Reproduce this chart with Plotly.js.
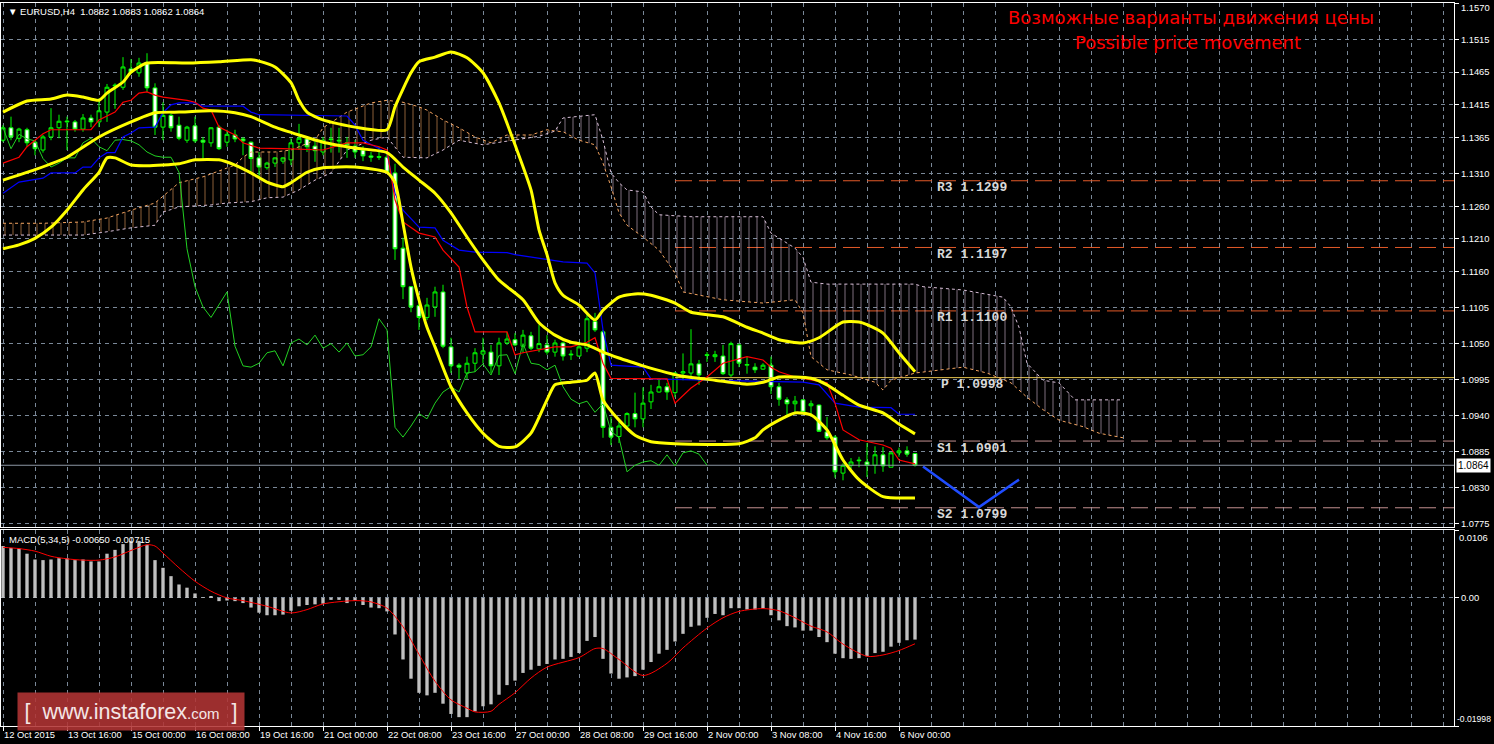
<!DOCTYPE html>
<html><head><meta charset="utf-8">
<script src="https://cdn.plot.ly/plotly-3.0.1.min.js"></script>
<style>html,body{margin:0;padding:0;background:#000;}#chart{width:1494px;height:744px;}</style>
</head><body><div id="chart"></div>
<script>
// ---------- DATA ----------
const timeLabels = ["12 Oct 2015","13 Oct 16:00","15 Oct 00:00","16 Oct 08:00","19 Oct 16:00","21 Oct 00:00","22 Oct 08:00","23 Oct 16:00","27 Oct 00:00","28 Oct 08:00","29 Oct 16:00","2 Nov 00:00","3 Nov 08:00","4 Nov 16:00","6 Nov 00:00"];
const priceTicks = [1.1570,1.1515,1.1465,1.1415,1.1365,1.1310,1.1260,1.1210,1.1160,1.1105,1.1050,1.0995,1.0940,1.0885,1.0830,1.0775];

const open = [1.1361,1.1380,1.1364,1.1377,1.1358,1.1346,1.1366,1.1380,1.1389,1.1389,
1.1378,1.1395,1.1389,1.1404,1.1444,1.1442,1.1470,1.1464,1.1478,1.1441,
1.1381,1.1399,1.1384,1.1361,1.1383,1.1361,1.1357,1.1381,1.1358,1.1369,
1.1363,1.1358,1.1334,1.1319,1.1326,1.1329,1.1331,1.1357,1.1363,1.1352,
1.1343,1.1363,1.1361,1.1357,1.1352,1.1346,1.1337,1.1336,1.1335,1.1311,
1.1196,1.1137,1.1108,1.1090,1.1106,1.1129,1.1045,1.1017,1.1005,1.1020,
1.1034,1.1037,1.1016,1.1051,1.1056,1.1046,1.1062,1.1042,1.1048,1.1037,
1.1051,1.1034,1.1031,1.1043,1.1084,1.1068,1.0922,1.0908,1.0924,1.0943,
1.0935,1.0961,1.0976,1.0984,1.0975,1.1005,1.1005,1.1019,1.1033,1.1030,
1.1031,1.1002,1.1048,1.1017,1.1014,1.1011,1.1017,1.0984,1.0964,1.0958,
1.0964,1.0955,1.0956,1.0915,1.0907,1.0852,1.0864,1.0872,1.0869,1.0864,
1.0880,1.0861,1.0883,1.0886,1.0882];
const high = [1.1384,1.1397,1.1380,1.1380,1.1361,1.1369,1.1410,1.1400,1.1397,1.1392,
1.1401,1.1400,1.1425,1.1447,1.1448,1.1488,1.1485,1.1487,1.1494,1.1448,
1.1419,1.1403,1.1397,1.1383,1.1397,1.1366,1.1381,1.1384,1.1377,1.1377,
1.1366,1.1359,1.1343,1.1328,1.1335,1.1335,1.1364,1.1386,1.1366,1.1361,
1.1366,1.1380,1.1380,1.1366,1.1361,1.1352,1.1343,1.1351,1.1341,1.1325,
1.1212,1.1138,1.1121,1.1120,1.1137,1.1140,1.1059,1.1020,1.1030,1.1043,
1.1059,1.1048,1.1059,1.1068,1.1066,1.1071,1.1068,1.1079,1.1063,1.1056,
1.1053,1.1040,1.1053,1.1097,1.1097,1.1071,1.0938,1.0930,1.0945,1.0975,
1.0983,1.0987,1.0997,1.0990,1.1007,1.1035,1.1072,1.1025,1.1037,1.1039,
1.1048,1.1053,1.1050,1.1030,1.1020,1.1020,1.1030,1.0990,1.0968,1.0970,
1.0965,1.0963,1.0957,1.0938,1.0910,1.0867,1.0875,1.0877,1.0898,1.0893,
1.0892,1.0884,1.0891,1.0893,1.0883];
const low = [1.1358,1.1361,1.1358,1.1351,1.1338,1.1342,1.1361,1.1364,1.1346,1.1374,
1.1374,1.1381,1.1381,1.1389,1.1409,1.1438,1.1462,1.1458,1.1435,1.1369,
1.1361,1.1374,1.1361,1.1357,1.1357,1.1332,1.1351,1.1346,1.1351,1.1358,
1.1338,1.1313,1.1305,1.1316,1.1320,1.1325,1.1323,1.1346,1.1343,1.1328,
1.1338,1.1342,1.1342,1.1334,1.1334,1.1329,1.1328,1.1331,1.1311,1.1178,
1.1118,1.1098,1.1071,1.1086,1.1091,1.1043,1.1005,1.0996,1.0996,1.1007,
1.1020,1.1005,1.1002,1.1048,1.1046,1.1036,1.1040,1.1037,1.1033,1.1030,
1.1024,1.1025,1.1030,1.1037,1.1068,1.0906,1.0895,1.0898,1.0922,1.0922,
1.0922,1.0950,1.0975,1.0964,1.0968,1.0994,1.1000,1.0987,1.1022,1.1022,
1.1002,1.0999,1.1014,1.1004,1.1005,1.1010,1.0973,1.0955,1.0938,1.0944,
1.0944,1.0938,1.0915,1.0903,1.0845,1.0841,1.0858,1.0861,1.0846,1.0851,
1.0854,1.0861,1.0877,1.0877,1.0862];
const close = [1.1380,1.1366,1.1378,1.1357,1.1348,1.1366,1.1380,1.1390,1.1390,1.1378,
1.1395,1.1389,1.1406,1.1442,1.1445,1.1473,1.1465,1.1479,1.1441,1.1381,
1.1399,1.1380,1.1364,1.1381,1.1360,1.1358,1.1380,1.1348,1.1370,1.1363,
1.1360,1.1333,1.1320,1.1326,1.1334,1.1334,1.1357,1.1364,1.1351,1.1345,
1.1361,1.1362,1.1360,1.1354,1.1343,1.1337,1.1335,1.1335,1.1312,1.1195,
1.1137,1.1106,1.1090,1.1109,1.1129,1.1046,1.1016,1.1014,1.1020,1.1036,
1.1039,1.1016,1.1051,1.1057,1.1048,1.1063,1.1043,1.1050,1.1037,1.1051,
1.1031,1.1033,1.1045,1.1088,1.1071,1.0922,1.0907,1.0924,1.0943,1.0935,
1.0959,1.0976,1.0984,1.0976,1.1005,1.1007,1.1019,1.1002,1.1032,1.1033,
1.1004,1.1050,1.1020,1.1018,1.1010,1.1017,1.0984,1.0965,1.0958,1.0962,
1.0945,1.0958,1.0916,1.0906,1.0854,1.0864,1.0869,1.0871,1.0864,1.0880,
1.0863,1.0883,1.0886,1.0881,1.0864];

// Bollinger bands
const bbUpperIdx = [0,3,6,8,10,12,13,15,16,18,23,27,31,32,34,36,37,38,40,44,48,49,51,52,54,56,58,60,62,64,66,67,68,69,70,72,74,75,77,79,81,84,86,90,93,95,97,100,102,105,107,108,110,112,114];
const bbUpperVal = [1.1404,1.1421,1.1424,1.1430,1.1427,1.1422,1.1433,1.1450,1.1465,1.1479,1.1479,1.1481,1.1484,1.1482,1.1473,1.1449,1.1422,1.1404,1.1392,1.1381,1.1377,1.1412,1.1464,1.1481,1.1488,1.1496,1.1487,1.1464,1.1418,1.1354,1.1285,1.1224,1.1186,1.1143,1.1124,1.1109,1.1086,1.1101,1.1121,1.1126,1.1124,1.1112,1.1098,1.1091,1.1075,1.1066,1.1056,1.1051,1.1059,1.1083,1.1083,1.1079,1.1066,1.1036,1.1007];
const bbMidIdx = [0,4,8,12,16,19,22,26,29,31,34,37,40,44,48,50,52,54,56,58,60,62,65,67,69,71,73,75,77,79,80,85,89,93,95,97,99,101,103,105,107,110,112,114];
const bbMidVal = [1.1300,1.1316,1.1335,1.1366,1.1389,1.1403,1.1404,1.1406,1.1403,1.1397,1.1381,1.1369,1.1358,1.1349,1.1342,1.1320,1.1300,1.1280,1.1250,1.1213,1.1178,1.1147,1.1117,1.1082,1.1063,1.1052,1.1048,1.1037,1.1028,1.1020,1.1016,1.1000,1.0994,1.0988,1.0991,1.0999,1.0999,1.0997,1.0987,1.0971,1.0956,1.0944,1.0927,1.0912];
const bbLowerIdx = [0,2,4,6,8,10,12,13,14,16,18,22,24,27,29,31,33,35,36,38,40,44,48,49,50,51,52,53,54,56,58,60,62,64,66,68,69,71,73,74,75,77,79,81,84,92,94,95,97,99,101,103,105,107,110,114];
const bbLowerVal = [1.1195,1.1201,1.1211,1.1228,1.1254,1.1285,1.1312,1.1334,1.1334,1.1323,1.1322,1.1325,1.1331,1.1331,1.1323,1.1311,1.1297,1.1290,1.1296,1.1312,1.1319,1.1320,1.1312,1.1296,1.1234,1.1167,1.1117,1.1075,1.1045,1.0984,1.0944,1.0913,1.0893,1.0892,1.0913,1.0964,1.0987,1.0991,1.0994,1.1005,1.0964,1.0933,1.0910,1.0900,1.0897,1.0897,1.0906,1.0918,1.0933,1.0944,1.0941,1.0918,1.0872,1.0842,1.0816,1.0814];

// Ichimoku
const tenkanIdx = [0,2,3,5,6,11,12,14,15,16,17,18,19,20,23,24,25,26,27,29,30,32,35,40,43,45,47,48,49,50,52,54,55,57,58,59,63,64,65,67,69,71,73,74,75,76,83,84,86,88,90,93,95,96,97,99,101,103,104,105,107,110,111,112,114];
const tenkanVal = [1.1326,1.1335,1.1351,1.1371,1.1377,1.1377,1.1392,1.1404,1.1419,1.1422,1.1433,1.1435,1.1430,1.1427,1.1422,1.1419,1.1410,1.1407,1.1381,1.1369,1.1357,1.1349,1.1348,1.1346,1.1357,1.1357,1.1351,1.1346,1.1270,1.1236,1.1219,1.1213,1.1193,1.1167,1.1106,1.1068,1.1068,1.1033,1.1036,1.1040,1.1045,1.1045,1.1052,1.1059,1.1020,1.0997,1.0996,1.0959,1.0982,1.0999,1.1020,1.1030,1.1025,1.1014,1.1007,1.0999,1.0994,1.0990,1.0959,1.0918,1.0903,1.0895,1.0890,1.0872,1.0866];
const kijunIdx = [0,1,2,5,6,9,10,11,12,13,14,15,16,17,19,20,21,22,24,25,30,31,32,43,44,45,48,49,50,52,54,55,57,59,63,64,67,70,73,74,75,76,80,81,100,102,104,107,111,112,114];
const kijunVal = [1.1280,1.1288,1.1297,1.1303,1.1311,1.1311,1.1320,1.1320,1.1334,1.1342,1.1342,1.1366,1.1372,1.1380,1.1381,1.1403,1.1415,1.1418,1.1418,1.1413,1.1413,1.1404,1.1400,1.1398,1.1384,1.1361,1.1342,1.1280,1.1254,1.1228,1.1227,1.1208,1.1193,1.1190,1.1189,1.1186,1.1181,1.1175,1.1173,1.1158,1.1071,1.1017,1.1014,1.0996,1.0991,1.0987,1.0959,1.0953,1.0952,1.0942,1.0942];
const chikouShift = 26;
const spanAIdx = [0,5,10,13,16,19,22,25,29,30,31,34,36,39,40,43,46,48,50,52,53,55,57,59,61,63,66,68,69,70,72,74,75,76,77,78,80,82,84,85,90,95,99,100,101,103,106,109,110,111,114,117,120,123,126,128,130,132,135,137,140];
const spanAVal = [1.1234,1.1234,1.1236,1.1242,1.1254,1.1265,1.1296,1.1305,1.1323,1.1335,1.1343,1.1343,1.1346,1.1361,1.1380,1.1404,1.1418,1.1422,1.1419,1.1412,1.1407,1.1392,1.1380,1.1366,1.1357,1.1369,1.1369,1.1377,1.1375,1.1374,1.1361,1.1354,1.1326,1.1290,1.1250,1.1231,1.1213,1.1193,1.1158,1.1129,1.1117,1.1112,1.1117,1.1097,1.1030,1.1010,1.1002,1.0991,1.0979,1.0994,1.1005,1.1010,1.1014,1.1005,1.0990,1.0968,1.0949,1.0933,1.0923,1.0913,1.0906];
const spanBIdx = [0,5,10,13,16,19,20,22,26,28,31,33,35,37,39,41,43,46,48,50,53,55,57,60,62,64,67,69,70,74,75,76,77,78,80,81,82,86,95,96,98,99,100,101,103,114,115,120,125,126,127,128,130,132,134,140];
const spanBVal = [1.1216,1.1216,1.1216,1.1221,1.1227,1.1231,1.1251,1.1259,1.1262,1.1265,1.1267,1.1273,1.1274,1.1285,1.1300,1.1311,1.1346,1.1361,1.1366,1.1335,1.1334,1.1346,1.1361,1.1354,1.1358,1.1361,1.1367,1.1375,1.1395,1.1400,1.1361,1.1311,1.1296,1.1285,1.1282,1.1259,1.1247,1.1244,1.1244,1.1219,1.1204,1.1196,1.1182,1.1144,1.1141,1.1141,1.1137,1.1132,1.1121,1.1106,1.1075,1.1020,1.0994,1.0990,1.0964,1.0964];
const kumoTwistIdx = 69;

// Pivot levels
const pivotNames = ["R3","R2","R1","P","S1","S2"];
const pivotVals = [1.1299,1.1197,1.1100,1.0998,1.0901,1.0799];
const pivotStartIdx = 84;

// Projected path
const projIdx = [115,122,127];
const projVal = [1.0862,1.0800,1.0842];

// MACD(5,34,5)
const macdHist = [0.0081,0.0078,0.0077,0.0069,0.0060,0.0059,0.0060,0.0062,0.0062,0.0059,
0.0060,0.0057,0.0057,0.0069,0.0075,0.0084,0.0089,0.0089,0.0083,0.0059,
0.0047,0.0034,0.0021,0.0016,0.0007,0.0001,0.0003,-0.0005,-0.0004,-0.0005,
-0.0008,-0.0015,-0.0023,-0.0027,-0.0027,-0.0026,-0.0020,-0.0013,-0.0011,-0.0010,
-0.0009,-0.0003,-0.0003,-0.0008,-0.0004,-0.0011,-0.0015,-0.0016,-0.0021,-0.0057,
-0.0096,-0.0126,-0.0148,-0.0152,-0.0148,-0.0165,-0.0181,-0.0186,-0.0186,-0.0177,
-0.0169,-0.0166,-0.0151,-0.0136,-0.0129,-0.0117,-0.0112,-0.0106,-0.0103,-0.0096,
-0.0095,-0.0092,-0.0086,-0.0067,-0.0061,-0.0095,-0.0118,-0.0126,-0.0124,-0.0122,
-0.0112,-0.0100,-0.0087,-0.0081,-0.0068,-0.0056,-0.0045,-0.0043,-0.0031,-0.0025,
-0.0027,-0.0016,-0.0016,-0.0018,-0.0018,-0.0016,-0.0027,-0.0035,-0.0044,-0.0046,
-0.0051,-0.0051,-0.0061,-0.0069,-0.0087,-0.0094,-0.0095,-0.0094,-0.0091,-0.0086,
-0.0084,-0.0076,-0.0070,-0.0066,-0.0065];
const macdSignalIdx = [0,2,4,6,8,10,12,14,16,18,19,20,22,24,26,28,30,33,36,38,40,44,46,48,50,52,54,56,58,59,61,62,64,66,68,72,74,75,77,80,83,85,88,90,92,95,97,99,101,103,105,108,110,112,114];
const macdSignalVal = [0.0079,0.0077,0.0073,0.0065,0.0061,0.0059,0.0059,0.0064,0.0074,0.0083,0.0081,0.0070,0.0047,0.0026,0.00105,0.0,-0.00042,-0.0013,-0.00234,-0.00182,-0.00094,-0.00042,-0.00062,-0.0016,-0.0045,-0.0088,-0.0130,-0.0159,-0.0172,-0.01778,-0.01768,-0.0166,-0.0148,-0.0125,-0.0108,-0.0093,-0.0079,-0.0079,-0.0096,-0.0121,-0.0102,-0.0078,-0.0047,-0.0031,-0.0021,-0.00166,-0.0020,-0.0031,-0.0044,-0.0053,-0.0072,-0.0091,-0.0089,-0.0082,-0.00715];
const macdAxisTop = 0.0106, macdAxisBottom = -0.01998;

// ---------- BUILD ----------
const idx = open.map((_, i) => i);
const last = close.length - 1;
const xMin = -0.25, xMax = 181.375;
const font = 'Liberation Sans, Arial, sans-serif';

function seg(xs, ys, lo, hi) {
  const ox = [], oy = [];
  xs.forEach((x, k) => { if (x >= lo && x <= hi) { ox.push(x); oy.push(ys[k]); } });
  return [ox, oy];
}
function kumo(lo, hi, color, op) {
  const [ax, ay] = seg(spanAIdx, spanAVal, lo, hi);
  const [bx, by] = seg(spanBIdx, spanBVal, lo, hi);
  return {
    type: 'scatter', mode: 'lines', x: ax.concat(bx.slice().reverse()), y: ay.concat(by.slice().reverse()),
    fill: 'toself', fillcolor: 'rgba(0,0,0,0)', line: { width: 0, color: 'rgba(0,0,0,0)' },
    fillpattern: { shape: '|', fgcolor: color, bgcolor: 'rgba(0,0,0,0)', size: 8, solidity: 0.12, fgopacity: op },
    hoverinfo: 'skip', xaxis: 'x', yaxis: 'y'
  };
}
function line(x, y, color, width, dash, shape) {
  return { type: 'scatter', mode: 'lines', x: x, y: y, line: { color: color, width: width, dash: dash || 'solid', shape: shape || 'linear', smoothing: 0.6 }, hoverinfo: 'skip', xaxis: 'x', yaxis: 'y' };
}

const traces = [];
// pivot lines
const pivotColors = { R3: '#e35a28', R2: '#e35a28', R1: '#e35a28', P: '#e2c24e', S1: '#c49090', S2: '#c49090' };
pivotNames.forEach((n, k) => {
  traces.push(line([pivotStartIdx, xMax + 2], [pivotVals[k], pivotVals[k]], pivotColors[n], 1, n === 'P' ? 'solid' : '17px,7px'));
});
// current price line
traces.push(line([xMin - 1, xMax + 2], [close[last], close[last]], '#8c96a4', 1));
// kumo
traces.push(kumo(-1, kumoTwistIdx, '#f4a460', 0.6));
traces.push(kumo(kumoTwistIdx, 200, '#d8bfd8', 0.6));
traces.push(line(spanAIdx, spanAVal, '#f4a460', 1, '3px,3px'));
traces.push(line(spanBIdx, spanBVal, '#d8bfd8', 1, '3px,3px'));
// chikou (close shifted back)
traces.push(line(idx.slice(chikouShift).map(i => i - chikouShift), close.slice(chikouShift), '#22d022', 1));
// kijun, tenkan
traces.push(line(kijunIdx, kijunVal, '#0000ff', 1.2));
traces.push(line(tenkanIdx, tenkanVal, '#ff0000', 1.2));
// bollinger
traces.push(line(bbUpperIdx, bbUpperVal, '#ffff00', 3, 'solid', 'spline'));
traces.push(line(bbMidIdx, bbMidVal, '#ffff00', 3, 'solid', 'spline'));
traces.push(line(bbLowerIdx, bbLowerVal, '#ffff00', 3, 'solid', 'spline'));
// candles
traces.push({
  type: 'candlestick', x: idx, open: open, high: high, low: low, close: close, xaxis: 'x', yaxis: 'y',
  increasing: { line: { color: '#00ff00', width: 1 }, fillcolor: '#000000' },
  decreasing: { line: { color: '#00ff00', width: 1 }, fillcolor: '#ffffff' },
  whiskerwidth: 0, hoverinfo: 'skip'
});
// projection
traces.push(line(projIdx, projVal, '#1f4cff', 2.5));
// MACD
traces.push({ type: 'bar', x: idx, y: macdHist, width: 0.42, marker: { color: '#c0c0c0', line: { width: 0 } }, xaxis: 'x2', yaxis: 'y2', hoverinfo: 'skip' });
traces.push({ type: 'scatter', mode: 'lines', x: macdSignalIdx, y: macdSignalVal, line: { color: '#ff0000', width: 1, shape: 'spline', smoothing: 0.8 }, xaxis: 'x2', yaxis: 'y2', hoverinfo: 'skip' });

const gridVals = []; for (let v = 0; v <= 184; v += 4) gridVals.push(v);
const labelVals = timeLabels.map((_, k) => k * 8);
const gridColor = '#7a8898';
const tickFont = { family: font, size: 9.4, color: '#ffffff' };
const priceText = priceTicks.map((v, k) => k === 0 ? '' : v.toFixed(4));

const annotations = [
  { text: '▼ EURUSD,H4  1.0882 1.0883 1.0862 1.0864', xref: 'paper', yref: 'paper', x: 0.0034, y: 0.9889, xanchor: 'left', yanchor: 'middle', showarrow: false, font: { family: font, size: 9.5, color: '#ffffff' } },
  { text: 'MACD(5,34,5) -0.00650 -0.00715', xref: 'paper', yref: 'paper', x: 0.0041, y: 0.2586, xanchor: 'left', yanchor: 'middle', showarrow: false, font: { family: font, size: 9.5, color: '#ffffff' } },
  { text: 'Возможные варианты движения цены', xref: 'paper', yref: 'paper', x: 0.819, y: 0.9793, xanchor: 'center', yanchor: 'middle', showarrow: false, font: { family: 'DejaVu Sans, sans-serif', size: 18, color: '#ff0000' } },
  { text: 'Possible price movement', xref: 'paper', yref: 'paper', x: 0.8166, y: 0.9447, xanchor: 'center', yanchor: 'middle', showarrow: false, font: { family: 'DejaVu Sans, sans-serif', size: 18, color: '#ff0000' } },
  { text: priceTicks[0].toFixed(4), xref: 'paper', yref: 'y', x: 1, y: priceTicks[0], xanchor: 'left', yanchor: 'top', xshift: 5, yshift: 4, showarrow: false, font: tickFont },
  { text: close[last].toFixed(4), xref: 'paper', yref: 'y', x: 1, y: close[last], xanchor: 'left', yanchor: 'middle', xshift: 2, showarrow: false, bgcolor: '#ffffff', borderpad: 1, font: { family: font, size: 10, color: '#000000' } },
  { text: macdAxisTop.toString(), xref: 'paper', yref: 'y2', x: 1, y: macdAxisTop, xanchor: 'left', yanchor: 'top', xshift: 3, showarrow: false, font: tickFont },
  { text: macdAxisBottom.toString(), xref: 'paper', yref: 'y2', x: 1, y: macdAxisBottom, xanchor: 'left', yanchor: 'bottom', xshift: 1, showarrow: false, font: { family: font, size: 8.6, color: '#ffffff' } },
  { text: '[  www.instaforex<span style="font-size:15px">.com</span>  ]', xref: 'paper', yref: 'paper', x: 0.0895, y: 0.0194, xanchor: 'center', yanchor: 'middle', showarrow: false, width: 226, height: 37, bgcolor: 'rgba(178,52,52,0.88)', borderpad: 0, font: { family: font, size: 21.5, color: '#f4e6e6' } }
];
pivotNames.forEach((n, k) => {
  annotations.push({ text: n + ' ' + pivotVals[k].toFixed(4), xref: 'x', yref: 'y', x: n === 'P' ? 117 : 116.5, y: pivotVals[k], xanchor: 'left', yanchor: 'middle', yshift: -7, showarrow: false, font: { family: 'Liberation Mono, monospace', size: 13, color: '#d8d8d8', weight: 'bold' } });
});

const layout = {
  width: 1494, height: 744, paper_bgcolor: '#000000', plot_bgcolor: '#000000',
  margin: { l: 1, r: 40, t: 3, b: 18 }, showlegend: false, hovermode: false, dragmode: false,
  xaxis: {
    domain: [0, 1], range: [xMin, xMax], anchor: 'y', rangeslider: { visible: false },
    tickmode: 'array', tickvals: gridVals, showticklabels: false, ticks: '',
    showgrid: true, gridcolor: gridColor, griddash: '4px,4px', gridwidth: 1,
    zeroline: false, showline: true, mirror: true, linecolor: '#ffffff', linewidth: 1
  },
  yaxis: {
    domain: [0.27524, 1], range: [1.07696, 1.15708], side: 'right', anchor: 'x',
    tickmode: 'array', tickvals: priceTicks, ticktext: priceText, ticks: 'outside', ticklen: 4, tickcolor: '#ffffff',
    ticklabeloverflow: 'allow', tickfont: tickFont, showgrid: true, gridcolor: gridColor, griddash: '4px,4px',
    zeroline: false, showline: true, mirror: true, linecolor: '#ffffff', linewidth: 1
  },
  xaxis2: {
    domain: [0, 1], range: [xMin, xMax], anchor: 'y2', matches: 'x',
    tickmode: 'array', tickvals: labelVals, ticktext: timeLabels, ticklabelposition: 'outside right',
    ticks: 'outside', ticklen: 4, tickcolor: '#ffffff', tickfont: tickFont, showgrid: false,
    minor: { tickmode: 'array', tickvals: gridVals, showgrid: true, gridcolor: gridColor, griddash: '4px,4px', ticks: '' },
    zeroline: false, showline: true, mirror: true, linecolor: '#ffffff', linewidth: 1
  },
  yaxis2: {
    domain: [0, 0.27109], range: [macdAxisBottom, macdAxisTop], side: 'right', anchor: 'x2',
    tickmode: 'array', tickvals: [macdAxisTop, 0, macdAxisBottom], ticktext: ['', '0.00', ''],
    ticks: 'outside', ticklen: 4, tickcolor: '#ffffff', tickfont: tickFont,
    showgrid: true, gridcolor: gridColor, griddash: '4px,4px',
    zeroline: false, showline: true, mirror: true, linecolor: '#ffffff', linewidth: 1
  },
  annotations: annotations
};

Plotly.newPlot('chart', traces, layout, { staticPlot: true, displayModeBar: false });
</script>
</body></html>
